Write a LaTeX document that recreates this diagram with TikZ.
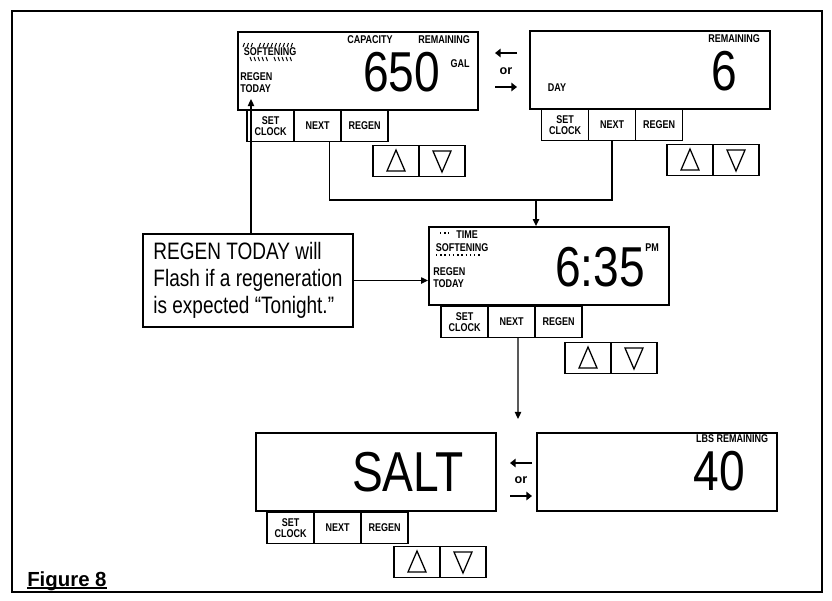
\documentclass[tikz,border=0pt]{standalone}
\usepackage{fontspec}
\setmainfont{Liberation Sans}
\newfontfamily\condsans{Liberation Sans}[FakeStretch=0.8]
\newfontfamily\lcdsans{Liberation Sans}[FakeStretch=0.82]
\usetikzlibrary{arrows.meta}

\tikzset{
  lcd/.style={draw, line width=1.3pt, minimum width=6cm, minimum height=1.95cm, inner sep=0pt},
  key/.style={draw, line width=0.9pt, minimum width=1.175cm, minimum height=0.775cm, inner sep=0pt,
    align=center, font=\condsans\bfseries\fontsize{8}{7.5}\selectfont},
  arrowkey/.style={draw, line width=0.9pt, minimum width=1.15cm, minimum height=0.775cm, inner sep=0pt},
  lbl/.style={inner sep=0pt, font=\condsans\bfseries\fontsize{8}{8.5}\selectfont},
  digits/.style={inner sep=0pt, font=\lcdsans\fontsize{40}{40}\selectfont},
  note/.style={draw, line width=1.3pt, minimum width=5.25cm, minimum height=2.325cm, align=left,
    font=\condsans\fontsize{16.9}{19.2}\selectfont},
  link/.style={line width=0.9pt},
  toggle/.style={line width=2pt, -{Triangle[length=4pt,width=6pt]}},
  ray/.style={line width=0.7pt},
  flash/.style={line width=1pt, dash pattern=on 1.2pt off 1.4pt},
}

\begin{document}
\begin{tikzpicture}[x=0.025cm, y=-0.025cm, >={Triangle[length=5pt,width=4.5pt]}]
  \useasboundingbox (0,0) rectangle (832,600);
  \draw[line width=2pt] (12,11) rectangle (822,592);

  % displays
  \node[lcd] (A) at (358,71) {};
  \node[lcd] (B) at (650,70) {};
  \node[lcd] (C) at (549,266) {};
  \node[lcd] (D) at (376,472) {};
  \node[lcd] (E) at (657,472) {};

  % display A: capacity
  \node[lbl] (capA) at (370,39.5) {CAPACITY};
  \node[lbl] (remA) at (444,39.5) {REMAINING};
  \node[lbl] (softA) at (270,52) {SOFTENING};
  \node[lbl, align=left, anchor=west] (regenA) at (240,83) {REGEN\\TODAY};
  \node[digits] (valA) at (401.5,72) {650};
  \node[lbl] (galA) at (460,64) {GAL};
  \foreach \x in {243,247,251,259,263,267,271,275,279,283,287,291}
    \draw[ray] (\x,47) -- ++(1.5,-4);
  \foreach \x in {250,254,258,262,266,274,278,282,286,290}
    \draw[ray] (\x,57) -- ++(1.5,4);

  % display B: days
  \node[lbl] (remB) at (734,39) {REMAINING};
  \node[digits] (valB) at (724,71) {6};
  \node[lbl] (dayB) at (557,88) {DAY};

  % display C: time
  \node[lbl] (timeC) at (467,235) {TIME};
  \node[lbl] (softC) at (462,248) {SOFTENING};
  \node[lbl, align=left, anchor=west] (regenC) at (433,278) {REGEN\\TODAY};
  \node[digits] (valC) at (600,267) {6:35};
  \node[lbl] (pmC) at (652,248) {PM};
  \draw[flash, dotted] (440,233) -- (449,233);
  \draw[flash, dotted] (436,255) -- (482,255);

  % display D and E: salt
  \node[digits] (valD) at (408,472) {SALT};
  \node[lbl] (lbsE) at (732,439) {LBS REMAINING};
  \node[digits] (valE) at (719,471) {40};

  % keys
  \node[key] (setA) at (270.5,126) {SET\\CLOCK};
  \node[key] (nextA) at (317.5,126) {NEXT};
  \node[key] (regA) at (364.5,126) {REGEN};
  \node[arrowkey] (upA) at (396,161) {};
  \node[arrowkey] (downA) at (442,161) {};

  \node[key] (setB) at (565,125) {SET\\CLOCK};
  \node[key] (nextB) at (612,125) {NEXT};
  \node[key] (regB) at (659,125) {REGEN};
  \node[arrowkey] (upB) at (690,160) {};
  \node[arrowkey] (downB) at (736,160) {};

  \node[key] (setC) at (464.5,322) {SET\\CLOCK};
  \node[key] (nextC) at (511.5,322) {NEXT};
  \node[key] (regC) at (558.5,322) {REGEN};
  \node[arrowkey] (upC) at (588,358) {};
  \node[arrowkey] (downC) at (634,358) {};

  \node[key] (setD) at (290.5,528) {SET\\CLOCK};
  \node[key] (nextD) at (337.5,528) {NEXT};
  \node[key] (regD) at (384.5,528) {REGEN};
  \node[arrowkey] (upD) at (417,562) {};
  \node[arrowkey] (downD) at (463,562) {};

  \foreach \p in {A,B,C,D} {
    \draw[line width=0.9pt] ([shift={(-9,10)}]up\p.center) -- ([shift={(0,-11)}]up\p.center)
      -- ([shift={(9,10)}]up\p.center) -- cycle;
    \draw[line width=0.9pt] ([shift={(-9,-10)}]down\p.center) -- ([shift={(0,11)}]down\p.center)
      -- ([shift={(9,-10)}]down\p.center) -- cycle;
  }

  % callout
  \node[note] (note) at (248,280.5) {REGEN TODAY will\\Flash if a regeneration\\is expected \char"201CTonight.\char"201D};

  % connectors
  \coordinate (split) at (536,200);
  \coordinate (drop) at (518,419);
  \coordinate (flagA) at (251,99);
  \draw[link] ([shift={(12,0)}]nextA.south) |- (split) -| (nextB.south);
  \draw[link,->] (split) -- (split |- C.north);
  \draw[link,->] ([shift={(6.5,0)}]nextC.south) -- (drop);
  \draw[link,->] (note.east) -- (note.east -| C.west);
  \draw[link,->] (note.north -| flagA) -- (flagA);

  % toggles
  \node[font=\bfseries\fontsize{9}{9}\selectfont, inner sep=0pt] (orAB) at (506,71) {or};
  \draw[toggle] ([shift={(11,-18)}]orAB.center) -- ([shift={(-11,-18)}]orAB.center);
  \draw[toggle] ([shift={(-11,16)}]orAB.center) -- ([shift={(11,16)}]orAB.center);
  \node[font=\bfseries\fontsize{9}{9}\selectfont, inner sep=0pt] (orDE) at (521,480) {or};
  \draw[toggle] ([shift={(11,-17)}]orDE.center) -- ([shift={(-11,-17)}]orDE.center);
  \draw[toggle] ([shift={(-11,16)}]orDE.center) -- ([shift={(11,16)}]orDE.center);

  \node[anchor=base west, inner sep=0pt, font=\bfseries\fontsize{14.5}{15}\selectfont] (figlabel) at (27,586) {Figure 8};
  \draw[line width=1pt] ([yshift=-1.5pt]figlabel.base west) -- ([yshift=-1.5pt]figlabel.base east);
\end{tikzpicture}
\end{document}
